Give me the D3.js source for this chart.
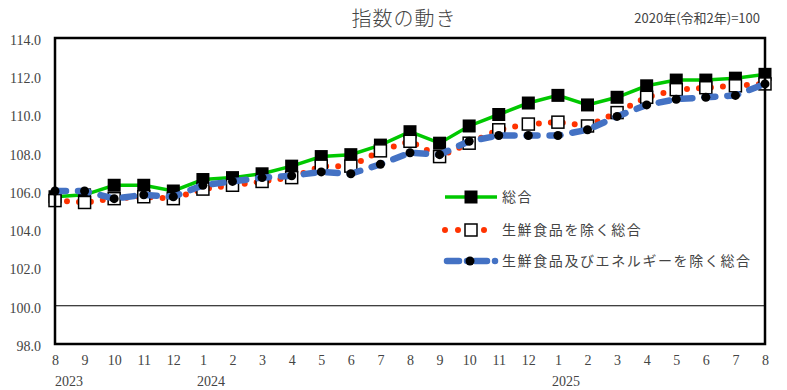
<!DOCTYPE html>
<html>
<head>
<meta charset="utf-8">
<script src="https://cdn.jsdelivr.net/npm/d3@7"></script>
<style>
  body { margin: 0; background: #fff; }
  text { font-family: "Liberation Serif", "Noto Sans CJK JP", serif; fill: #444; }
  .jp { font-family: "Noto Sans CJK JP", sans-serif; }
</style>
</head>
<body>
<svg id="vis"></svg>
<script>
//Chart data (2020 = 100)
var monthLabels = ["8","9","10","11","12","1","2","3","4","5","6","7","8","9","10","11","12","1","2","3","4","5","6","7","8"];
var yearLabels = [{label:"2023", idx:0, dx:14}, {label:"2024", idx:5, dx:8}, {label:"2025", idx:17, dx:8}];
var general  = [105.7,105.8,106.3,106.3,106.0,106.6,106.7,106.9,107.3,107.8,107.9,108.4,109.1,108.5,109.4,110.0,110.6,111.0,110.5,110.9,111.5,111.8,111.8,111.9,112.1];
var core     = [105.5,105.4,105.6,105.7,105.6,106.1,106.3,106.5,106.7,107.3,107.3,108.1,108.6,107.8,108.5,109.2,109.5,109.6,109.4,110.1,110.9,111.3,111.4,111.5,111.6];
var coreCore = [106.0,106.0,105.6,105.8,105.7,106.3,106.5,106.7,106.8,107.0,106.9,107.4,108.0,107.9,108.6,108.9,108.9,108.9,109.2,109.9,110.5,110.8,110.9,111.0,111.6];
var yTicks = [98,100,102,104,106,108,110,112,114];
var seriesNames = ["総合", "生鮮食品を除く総合", "生鮮食品及びエネルギーを除く総合"];

//Canvas (plot box in pixels)
var width = 787;
var height = 390;
var plotLeft = 55, plotRight = 765, plotTop = 38, plotBottom = 344;

var green = "#00c800";
var red = "#ff3300";
var blue = "#4472c4";

const svg = d3.select("#vis").attr("width", width).attr("height", height);

var x = d3.scalePoint().domain(d3.range(monthLabels.length)).range([plotLeft, plotRight]);
var y = d3.scaleLinear().domain([98, 114]).range([plotBottom, plotTop]);

//Title and base note
svg.append("text").attr("class", "jp")
    .attr("x", 404).attr("y", 26)
    .attr("text-anchor", "middle")
    .style("font-size", "20px")
    .style("font-weight", "300")
    .style("letter-spacing", "1px")
    .text("指数の動き");

svg.append("text").attr("class", "jp")
    .attr("x", 760).attr("y", 23)
    .attr("text-anchor", "end")
    .style("font-size", "13px")
    .text("2020年(令和2年)=100");

//Y axis labels
var yAxis = d3.axisLeft(y).tickValues(yTicks).tickSize(0).tickPadding(14)
    .tickFormat(function(d){ return d3.format(".1f")(d); });
var yg = svg.append("g").attr("transform", "translate(" + plotLeft + ",0)").call(yAxis);
yg.select(".domain").remove();
yg.selectAll("text").style("font-size", "14px").attr("dy", "0.45em")
    .style("font-family", "Liberation Serif").style("fill", "#444");

//X axis labels (months)
var xAxis = d3.axisBottom(x).tickSize(0).tickPadding(11)
    .tickFormat(function(d){ return monthLabels[d]; });
var xg = svg.append("g").attr("transform", "translate(0," + plotBottom + ")").call(xAxis);
xg.select(".domain").remove();
xg.selectAll("text").style("font-size", "14px")
    .style("font-family", "Liberation Serif").style("fill", "#444");

svg.append("g").selectAll("text")
    .data(yearLabels)
    .enter()
    .append("text")
    .attr("x", function(d){ return x(d.idx) + d.dx; })
    .attr("y", 386)
    .attr("text-anchor", "middle")
    .style("font-size", "14px")
    .text(function(d){ return d.label; });

//100 reference line
svg.append("line")
    .attr("x1", plotLeft).attr("x2", plotRight)
    .attr("y1", y(100)).attr("y2", y(100))
    .attr("stroke", "#000").attr("stroke-width", 1.2);

var line = d3.line()
    .x(function(d, i){ return x(i); })
    .y(function(d){ return y(d); });

//総合
svg.append("path").datum(general)
    .attr("d", line)
    .attr("fill", "none")
    .attr("stroke", green)
    .attr("stroke-width", 3.5);

svg.append("g").selectAll("rect")
    .data(general)
    .enter()
    .append("rect")
    .attr("x", function(d, i){ return x(i) - 6.5; })
    .attr("y", function(d){ return y(d) - 6.5; })
    .attr("width", 13).attr("height", 13)
    .attr("fill", "#000");

//生鮮食品を除く総合
svg.append("path").datum(core)
    .attr("d", line)
    .attr("fill", "none")
    .attr("stroke", red)
    .attr("stroke-width", 6)
    .attr("stroke-linecap", "round")
    .attr("stroke-dasharray", "0,12");

svg.append("g").selectAll("rect")
    .data(core)
    .enter()
    .append("rect")
    .attr("x", function(d, i){ return x(i) - 6; })
    .attr("y", function(d){ return y(d) - 6; })
    .attr("width", 12).attr("height", 12)
    .attr("fill", "#fff")
    .attr("stroke", "#000")
    .attr("stroke-width", 1.5);

//生鮮食品及びエネルギーを除く総合
svg.append("path").datum(coreCore)
    .attr("d", line)
    .attr("fill", "none")
    .attr("stroke", blue)
    .attr("stroke-width", 6.5)
    .attr("stroke-linecap", "round")
    .attr("stroke-dasharray", "11,12");

svg.append("g").selectAll("circle")
    .data(coreCore)
    .enter()
    .append("circle")
    .attr("cx", function(d, i){ return x(i); })
    .attr("cy", function(d){ return y(d); })
    .attr("r", 4.5)
    .attr("fill", "#000");

//Plot frame
svg.append("rect")
    .attr("x", plotLeft).attr("y", plotTop)
    .attr("width", plotRight - plotLeft).attr("height", plotBottom - plotTop)
    .attr("fill", "none")
    .attr("stroke", "#000")
    .attr("stroke-width", 2.5);

//Legend
var lg = svg.append("g");
var lx1 = 445, lx2 = 497, lmid = 471;
var legendY = [197, 230, 261];

lg.append("line").attr("x1", lx1).attr("x2", lx2).attr("y1", legendY[0]).attr("y2", legendY[0])
    .attr("stroke", green).attr("stroke-width", 3.5);
lg.append("rect").attr("x", lmid - 6.5).attr("y", legendY[0] - 6.5).attr("width", 13).attr("height", 13).attr("fill", "#000");

lg.append("line").attr("x1", lx1).attr("x2", lx2).attr("y1", legendY[1]).attr("y2", legendY[1])
    .attr("stroke", red).attr("stroke-width", 6)
    .attr("stroke-linecap", "round").attr("stroke-dasharray", "0,13");
lg.append("rect").attr("x", lmid - 6).attr("y", legendY[1] - 6).attr("width", 12).attr("height", 12)
    .attr("fill", "#fff").attr("stroke", "#000").attr("stroke-width", 1.5);

lg.append("line").attr("x1", lx1 + 2).attr("x2", lx2).attr("y1", legendY[2]).attr("y2", legendY[2])
    .attr("stroke", blue).attr("stroke-width", 6.5)
    .attr("stroke-linecap", "round").attr("stroke-dasharray", "12,8,0,8");
lg.append("circle").attr("cx", lmid - 1).attr("cy", legendY[2]).attr("r", 4.5).attr("fill", "#000");

lg.selectAll("text")
    .data(seriesNames)
    .enter()
    .append("text")
    .attr("class", "jp")
    .attr("x", 502)
    .attr("y", function(d, i){ return legendY[i]; })
    .attr("dy", "0.36em")
    .style("font-size", "14px")
    .style("letter-spacing", "1.6px")
    .text(function(d){ return d; });
</script>
</body>
</html>
